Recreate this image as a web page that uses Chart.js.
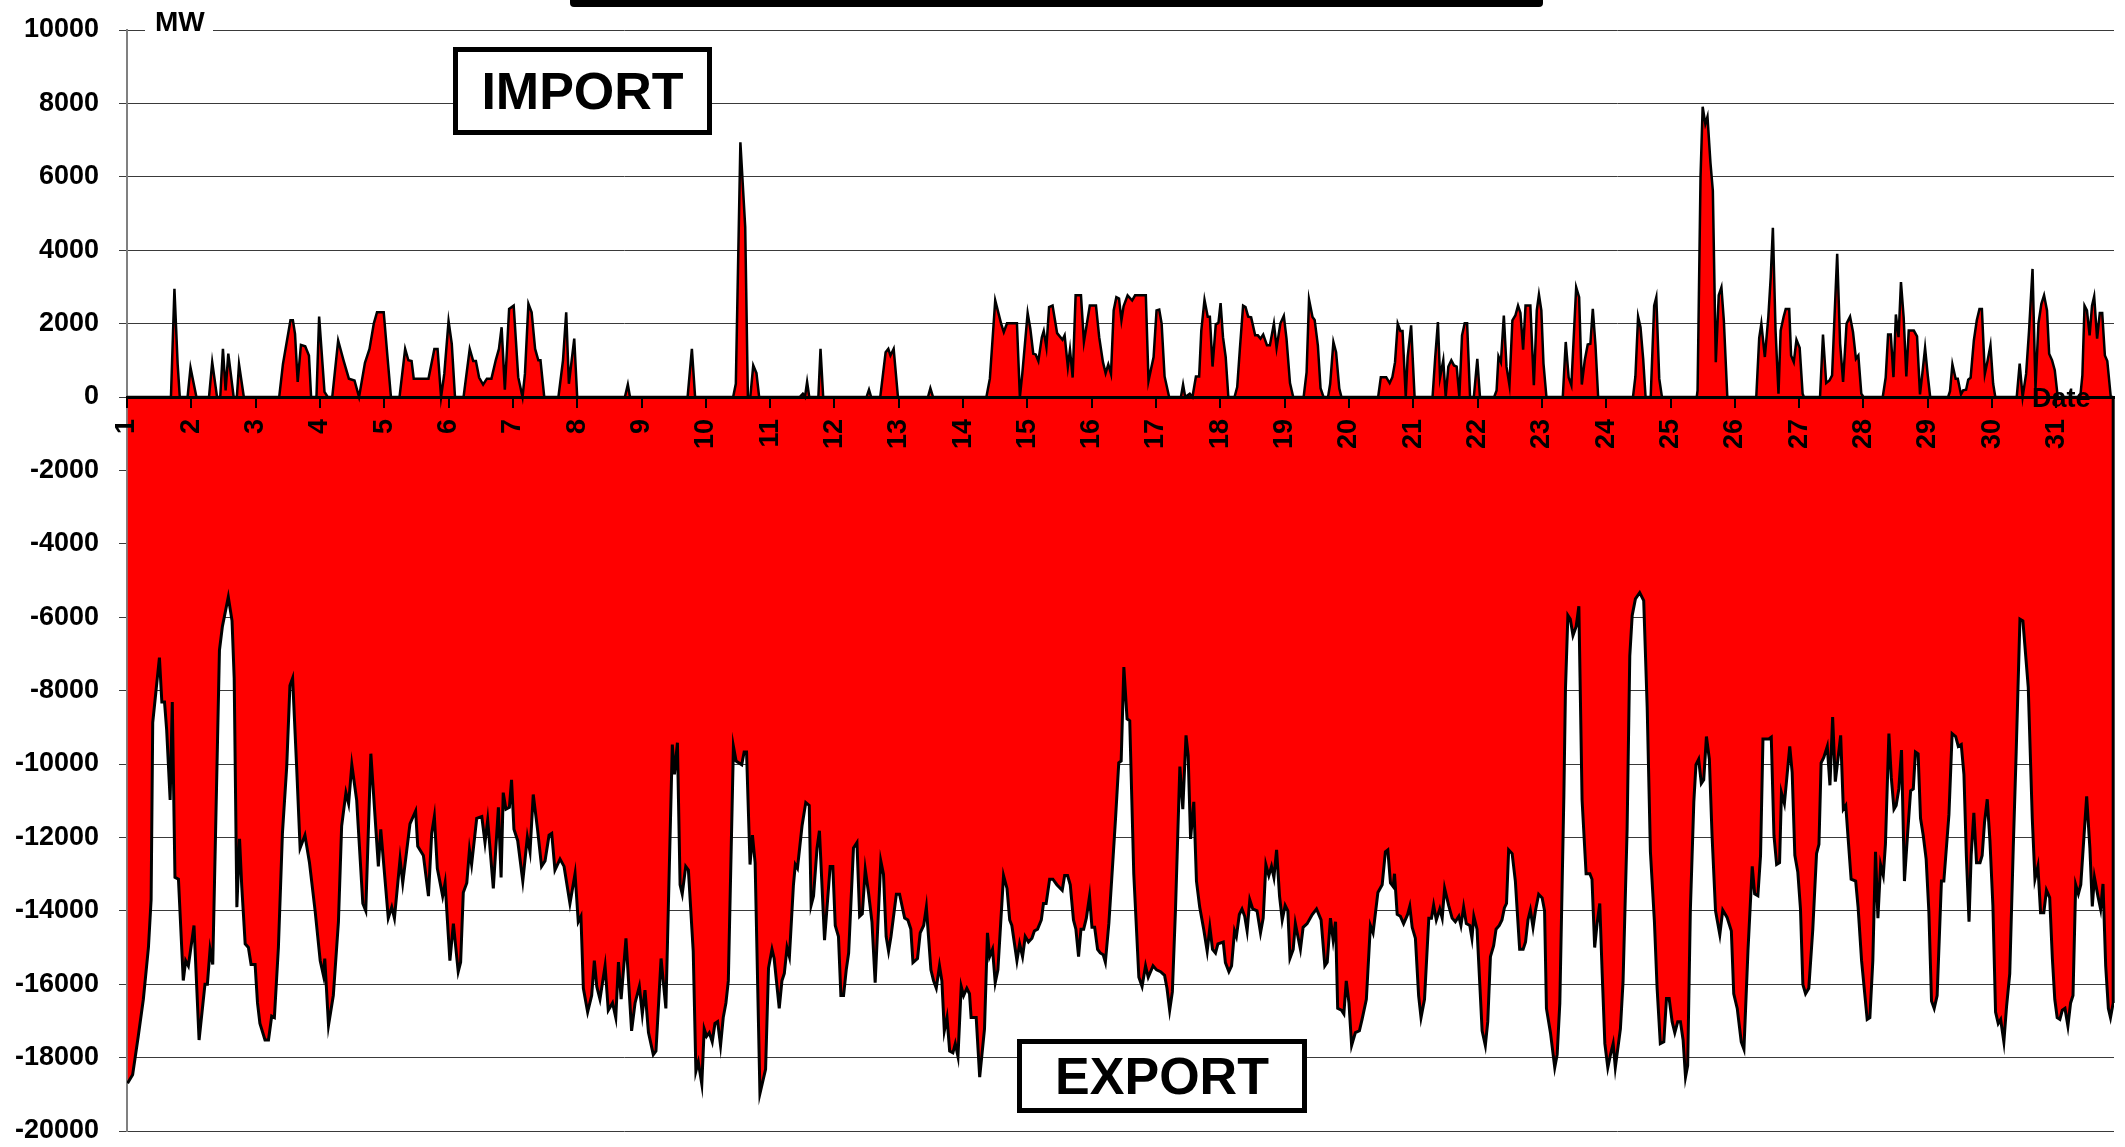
<!DOCTYPE html>
<html>
<head>
<meta charset="utf-8">
<title>Import / Export MW</title>
<script src="https://cdn.jsdelivr.net/npm/chart.js"></script>
<style>
  html, body { margin: 0; padding: 0; background: #fff; }
  #wrap { position: relative; width: 2125px; height: 1147px; overflow: hidden; font-family: "Liberation Sans", Arial, sans-serif; }
  #chart { position: absolute; left: 0; top: 0; }
  .note { position: absolute; font-weight: bold; color: #000; white-space: nowrap; }
  .box { position: absolute; box-sizing: border-box; border: 5px solid #000; background: #fff;
         display: flex; align-items: center; justify-content: center; font-weight: bold; font-size: 52px; }
</style>
</head>
<body>
<div id="wrap">
  <canvas id="chart" width="2125" height="1147"></canvas>
  <div class="note" style="left:570px; top:0; width:973px; height:7px; background:#000; border-radius:0 0 4px 4px;"></div>
  <div class="note" style="left:145px; top:8px; height:27px; line-height:27px; font-size:28px; padding:0 8px 0 10px; background:#fff;">MW</div>
  <div class="note" style="left:2032px; top:385px; line-height:27px; font-size:27px;">Date</div>
  <div class="box" style="left:453px; top:47px; width:259px; height:88px;">IMPORT</div>
  <div class="box" style="left:1017px; top:1039px; width:290px; height:74px;">EXPORT</div>
</div>
<script>
// x tick labels: day of month, one per 24 hours
const dayLabels = ["1","2","3","4","5","6","7","8","9","10","11","12","13","14","15","16",
  "17","18","19","20","21","22","23","24","25","26","27","28","29","30","31"];

// [hour of month, MW]
const importPoints = [
  [0,0],[16.4,0],[17.7,2950],[18.9,900],[19.7,0],[22.6,0],[23.7,800],[25.9,0],[30.6,0],[31.8,950],
  [33.6,0],[34.8,0],[35.8,1310],[36.8,180],[37.8,1180],[39.8,0],[41,0],[41.8,890],[43.6,0],[56.8,0],
  [58.2,900],[61,2090],[61.9,2090],[62.7,1720],[63.7,410],[64.9,1420],[66.5,1380],[67.9,1130],[68.7,0],[70.7,0],
  [71.7,2190],[73.7,140],[74.9,0],[76.6,0],[78.8,1540],[80.8,1000],[82.8,500],[84.9,450],[86.6,0],[88.8,930],
  [90.5,1310],[92.1,2000],[93.3,2310],[95.8,2310],[97.1,1180],[98.5,0],[101.7,0],[103.8,1310],[105,1000],[106.2,980],
  [107,500],[112.5,500],[114.7,1310],[115.9,1310],[117.2,0],[118.4,630],[120,2070],[121.2,1450],[122.4,0],[125.6,0],
  [127.9,1310],[129.2,980],[130.2,980],[131.4,530],[132.9,340],[134.3,500],[136,500],[137.6,1000],[138.8,1310],[139.8,1900],
  [141,200],[142.6,2400],[144.3,2490],[146,540],[147.6,0],[148.5,630],[149.8,2540],[151,2310],[152.3,1310],[153.5,1000],
  [154.3,1000],[155.7,0],[161,0],[162.7,1000],[163.9,2310],[164.9,360],[166.9,1590],[168,0],[185.8,0],[186.9,340],
  [187.7,0],[209.2,0],[210.8,1310],[212,0],[226.2,0],[227.2,360],[228.9,6940],[230.7,4630],[231.7,0],[232.6,0],
  [233.7,860],[234.9,650],[235.9,0],[251,0],[252.2,90],[253,0],[253.8,410],[254.6,0],[258,0],[258.8,1310],
  [259.8,0],[276,0],[276.9,200],[277.7,0],[281.1,0],[283.1,1220],[284.1,1310],[284.9,1130],[286.1,1310],[287.7,0],
  [298.9,0],[299.8,240],[300.8,0],[320.7,0],[322,500],[324,2630],[326.2,2000],[327.2,1770],[328.4,2010],[332.1,2010],
  [333.2,0],[334.1,630],[336.1,2290],[337.1,1860],[338.2,1180],[339.1,1160],[340.1,980],[341.4,1630],[342.1,1800],[343.1,1360],
  [344.1,2450],[345.4,2490],[346.3,2090],[347.1,1740],[349.1,1560],[349.9,1680],[351.1,820],[351.9,1290],[352.9,530],[354,2770],
  [356,2770],[357.1,1500],[359.3,2490],[361.6,2490],[362.8,1630],[364.2,950],[365.2,650],[366.2,890],[367.2,630],[368.2,2360],
  [369.2,2720],[370.2,2680],[371.1,2090],[371.9,2470],[373.4,2770],[375.1,2630],[376.2,2770],[380.2,2770],[381.2,440],[383.1,1090],
  [384.2,2360],[385.2,2380],[386.1,2000],[387.2,560],[388.9,0],[393.3,0],[394.1,340],[394.9,0],[396.6,90],[397.6,0],
  [398.9,560],[400.1,560],[400.9,1810],[402.1,2650],[403.3,2190],[404.1,2190],[405.1,830],[406.3,1980],[407.3,2020],[408.1,2560],
  [409,1630],[410,1090],[411,0],[413.3,0],[414.3,270],[415.3,1310],[416.5,2490],[417.4,2450],[418.4,2190],[419.5,2170],
  [421,1680],[422,1680],[423,1590],[424,1700],[425.4,1410],[426.5,1410],[428,2000],[429,1340],[430.4,2000],[431.7,2210],
  [432.7,1590],[434,380],[435.2,0],[439.1,0],[440.2,680],[441.1,2660],[442.4,2180],[443.2,2100],[444.4,1410],[445.4,240],
  [446.5,0],[448.2,0],[449,360],[450.2,1500],[451.2,1220],[452.4,230],[453.2,0],[466.9,0],[467.9,540],[469.9,540],
  [471.2,380],[472.2,540],[473.2,950],[474.2,2000],[475.2,1800],[476,1800],[477.2,0],[477.9,1090],[479.2,1950],[480.5,0],
  [487.2,0],[488.2,1090],[489.2,2040],[490,530],[491.2,1000],[492.1,0],[493.1,830],[494.2,1000],[495.2,860],[496.2,830],
  [497.2,0],[498.2,1680],[499.2,2010],[500.1,2010],[501.2,0],[502.6,0],[503.9,1040],[504.9,0],[510.2,0],[511.1,180],
  [511.8,1110],[512.7,950],[513.8,2220],[514.8,820],[515.9,320],[517,2090],[518.1,2220],[519.1,2490],[520,2290],[521,1290],
  [521.9,2490],[523.7,2490],[525,320],[526.1,2360],[526.9,2790],[527.8,2360],[528.6,910],[529.7,0],[535.8,0],[536.9,1500],
  [538,530],[539,320],[540.1,1950],[540.8,2990],[541.9,2720],[542.9,340],[544,1000],[545.1,1430],[546.1,1450],[547,2400],
  [548,1410],[549,0],[562,0],[562.9,560],[563.9,2190],[564.8,1900],[565.8,1040],[566.7,0],[568.6,0],[569.9,2490],
  [570.7,2720],[571.8,500],[572.8,0],[585.8,0],[586.1,180],[587.2,5990],[588,7910],[589,7440],[589.8,7640],[590.9,6390],
  [591.8,5620],[592.9,950],[594,2770],[595,2990],[595.9,2090],[597.2,0],[608,0],[609.1,1610],[609.9,2000],[611.2,1090],
  [612.5,2180],[613.4,3270],[614.2,4610],[615.2,1810],[616.3,90],[617.1,1810],[618.2,2180],[619,2400],[620.3,2400],[621,1130],
  [622,950],[623,1560],[624.2,1340],[625.3,90],[625.8,0],[631.8,0],[632.9,1700],[634.1,380],[635.3,450],[636.3,590],
  [637.2,2180],[638.2,3900],[639.3,1450],[640.4,410],[641.7,2000],[643,2190],[644.1,1770],[645.2,1040],[646.1,1130],[647.2,90],
  [648,0],[655.2,0],[656.3,530],[657.2,1700],[658.2,1700],[659.2,540],[660.1,2250],[661.1,1630],[662,3130],[663,2180],
  [664,560],[664.9,1810],[666.8,1810],[668,1650],[669.1,70],[670,650],[671,1340],[672,590],[672.9,0],[679.6,0],
  [680.3,160],[681.2,890],[682.4,500],[683.2,500],[684.4,70],[685.2,180],[686.3,200],[687.1,470],[688,530],[689.2,1540],
  [690.3,2090],[691.3,2400],[692.2,2400],[693.3,630],[694.3,980],[695.4,1410],[696.4,360],[697.2,0],[705.2,0],[706.3,910],
  [707.4,0],[708.7,630],[709.8,1810],[711.1,3490],[712.2,230],[713.3,2000],[714.4,2540],[715.4,2770],[716.5,2360],[717.3,1180],
  [718.4,1000],[719.4,730],[720.5,0],[728.9,0],[729.7,590],[730.5,2490],[731.4,2360],[732.4,1680],[733.3,2490],[734.1,2740],
  [735.2,1590],[736.2,2290],[737.1,2290],[738.1,1130],[739,980],[740.3,0],[741.2,0]
];

const exportPoints = [
  [0.2,-18700],[2.1,-18470],[4.2,-17420],[6.1,-16410],[8,-15000],[9,-13700],[9.6,-8870],[12.1,-7100],[13,-8310],[14,-8310],
  [14.8,-9070],[16.1,-10980],[16.9,-8310],[17.9,-13090],[19.2,-13140],[21,-15900],[21.9,-15360],[22.9,-15500],[25,-14400],[26.9,-17520],
  [29.1,-16000],[30,-16000],[31,-15050],[32,-15460],[34.5,-6900],[35.6,-6250],[37.8,-5450],[39.2,-6100],[40,-7660],[41,-13900],
  [42,-12040],[42.8,-13300],[44.1,-14900],[45.3,-15000],[46.3,-15460],[47.8,-15460],[48.7,-16510],[49.6,-17070],[51.5,-17520],[52.8,-17520],
  [54,-16870],[55,-16910],[56.5,-15000],[58,-11890],[59.6,-10070],[60.8,-7860],[61.8,-7660],[63.3,-10070],[64.6,-12290],[66.4,-11940],
  [68.1,-12690],[70.2,-14000],[72.1,-15360],[73.3,-15760],[73.8,-15300],[75.2,-17120],[77,-16300],[78.9,-14300],[80.1,-11690],[81.7,-10780],
  [82.7,-11080],[83.9,-10020],[85.7,-10980],[88,-13800],[89.1,-14000],[91,-9720],[93.8,-12790],[94.7,-11780],[97.5,-14200],[98.8,-13900],
  [99.8,-14200],[101.9,-12590],[102.9,-13240],[105.6,-11630],[107.7,-11280],[108.5,-12240],[110.6,-12490],[112.5,-13600],[113.7,-11890],[114.7,-11430],
  [115.8,-12840],[117.8,-13600],[118.7,-13240],[120.5,-15360],[121.8,-14350],[123.6,-15660],[124.5,-15400],[125.5,-13500],[126.8,-13240],[127.8,-12340],
  [128.6,-12740],[130.5,-11480],[132.4,-11430],[133.6,-12140],[134.6,-11530],[136.7,-13390],[138.6,-11180],[139.6,-13090],[140.4,-10780],[141.4,-11230],
  [142.7,-11180],[143.5,-10430],[144.4,-11780],[145.8,-12090],[147.7,-13190],[149.4,-11990],[150.4,-12390],[151.6,-10830],[153.2,-11780],[154.7,-12790],
  [156,-12640],[157.5,-11940],[158.5,-11890],[159.7,-12890],[161.6,-12590],[163.1,-12790],[165.3,-13800],[167.2,-12990],[168.4,-14300],[169.4,-14150],
  [170.3,-16110],[171.9,-16760],[173.4,-16310],[174.4,-15360],[175.3,-16060],[176.5,-16410],[178.4,-15500],[179.6,-16710],[181.2,-16510],[182.4,-16910],
  [183.4,-15400],[184.4,-16410],[186.2,-14750],[188.3,-17270],[189.6,-16510],[191.2,-16060],[192.3,-16810],[193.3,-16160],[194.6,-17320],[196.4,-17920],
  [197.4,-17820],[199.3,-15300],[201.1,-16660],[203.5,-9470],[204.3,-10280],[205.4,-9420],[206.4,-13290],[207.2,-13540],[208.5,-12790],[209.5,-12890],
  [211.3,-15100],[212.3,-18370],[213.2,-18120],[214.5,-18720],[215.4,-17220],[216.3,-17420],[217.3,-17320],[218.4,-17570],[219.4,-17070],[220.4,-17020],
  [221.5,-17670],[222.5,-16910],[223.5,-16510],[224.4,-15910],[226.3,-9520],[227.3,-9920],[229.4,-10020],[230.3,-9670],[231.2,-9670],[232.5,-12740],
  [233.4,-11940],[234.4,-12690],[236.2,-18980],[238.3,-18320],[239.4,-15560],[240.7,-15050],[241.5,-15300],[243.4,-16660],[244.4,-15910],[245.3,-15710],
  [246.3,-15000],[247.2,-15250],[248.7,-13290],[249.4,-12740],[250.2,-12840],[251.9,-11690],[253.3,-11050],[254.6,-11130],[255.3,-13850],[256.2,-13600],
  [257.5,-12290],[258.4,-11820],[260.3,-14800],[262.4,-12790],[263.4,-12790],[264.3,-14400],[265.5,-14700],[266.4,-16310],[267.4,-16310],[268.4,-15610],
  [269.3,-15150],[271.1,-12290],[272.4,-12140],[273.4,-14150],[274.4,-14080],[275.5,-12870],[276.7,-13500],[278,-14300],[279.2,-15960],[281.3,-12640],
  [282.3,-13000],[283.3,-14700],[284.2,-15100],[285.1,-14700],[287.1,-13550],[288.3,-13550],[290.2,-14200],[291.4,-14250],[292.5,-14500],[293.3,-15410],
  [295,-15300],[296,-14600],[297.3,-14400],[298.3,-13900],[300,-15610],[301,-15910],[302,-16110],[303.2,-15500],[304.1,-15910],[305,-17270],
  [306,-16910],[307,-17820],[308.2,-17870],[309.1,-17620],[310.1,-17970],[311.3,-16060],[312.2,-16310],[313.4,-16110],[314.4,-16260],[315,-16910],
  [316.9,-16910],[318.2,-18530],[320,-17220],[321.1,-14600],[321.9,-15250],[323,-15050],[324,-15960],[325,-15610],[327.1,-13040],[328.4,-13390],
  [329.4,-14250],[330.2,-14400],[332.1,-15360],[333.1,-14900],[334.2,-15250],[335.2,-14700],[336.4,-14850],[337.7,-14750],[338.6,-14550],[339.8,-14500],
  [341.2,-14250],[342,-13800],[343,-13800],[344.3,-13140],[345.5,-13140],[347,-13290],[349,-13440],[349.9,-13040],[351,-13040],[352,-13290],
  [353.2,-14250],[354.1,-14500],[355.1,-15250],[356,-14500],[357,-14500],[358,-14200],[359.2,-13600],[360.1,-14450],[361.1,-14450],[362.2,-15050],
  [363.2,-15150],[364.3,-15200],[365.1,-15400],[366.4,-14350],[367.6,-12990],[368.9,-11480],[370.1,-9970],[371,-9920],[372,-7360],[373.2,-8770],
  [374.2,-8820],[375.7,-12990],[377.6,-15810],[378.8,-16060],[380.1,-15500],[381.1,-15810],[382.9,-15500],[384.2,-15610],[385.7,-15660],[387.2,-15760],
  [388.1,-16110],[389.1,-16710],[390.1,-16210],[391.3,-13900],[392.9,-10070],[394,-11230],[395.2,-9220],[396,-9770],[396.9,-12040],[398.1,-11030],
  [399.1,-13190],[400.3,-13900],[401.8,-14500],[403.1,-15100],[404.1,-14450],[405.1,-15050],[406.2,-15150],[407.1,-14900],[409.1,-14850],[409.9,-15410],
  [411.2,-15660],[412.2,-15500],[413.3,-14550],[414,-14700],[415.1,-14100],[416.1,-13950],[417.1,-14150],[418,-14550],[419,-13700],[420.1,-13950],
  [421.7,-14000],[423,-14600],[424,-14200],[425,-12740],[426.1,-13040],[427.1,-12790],[428,-13090],[429,-12340],[430.1,-13600],[431.1,-14250],
  [432.2,-13850],[433.2,-14000],[434,-15290],[435.2,-15050],[436,-14350],[437.9,-15050],[438.9,-14450],[440.4,-14350],[442.3,-14100],[443.9,-13950],
  [445.6,-14250],[447,-15500],[447.9,-15400],[449.1,-14200],[450.1,-14800],[451,-14300],[451.8,-16660],[453.2,-16710],[454.1,-16810],[455,-15910],
  [456,-16510],[457,-17670],[458.4,-17320],[459.9,-17270],[460.9,-16960],[462.5,-16410],[464,-14400],[465,-14600],[466.8,-13500],[468.4,-13290],
  [469.6,-12390],[470.5,-12340],[471.5,-13240],[472.5,-13340],[473,-12990],[474,-14100],[475.2,-14150],[476.4,-14350],[477.9,-14100],[478.7,-13880],
  [479.6,-14450],[480.8,-14750],[482,-16310],[482.9,-16910],[484.2,-16410],[485.8,-14200],[486.8,-14200],[487.6,-13850],[488.6,-14250],[489.9,-13950],
  [490.8,-14200],[491.7,-13390],[493.2,-13850],[494.5,-14200],[495.7,-14300],[497,-14150],[497.8,-14400],[498.8,-13900],[499.8,-14350],[501.1,-14400],
  [501.9,-14750],[502.6,-14150],[503.8,-14500],[505.7,-17270],[506.9,-17670],[507.8,-17020],[508.8,-15250],[510,-14950],[510.9,-14500],[512.1,-14400],
  [513.1,-14250],[514,-13920],[514.8,-13800],[515.6,-12340],[516.9,-12440],[518.1,-13190],[519.7,-15050],[521,-15050],[521.9,-14850],[522.8,-14250],
  [523.7,-13980],[524.7,-14450],[525.6,-14000],[526.8,-13550],[528.1,-13650],[529,-14000],[529.7,-16660],[531.2,-17320],[532.8,-18270],[533.7,-17920],
  [534.7,-16510],[536.2,-10880],[536.8,-7960],[537.7,-5950],[538.6,-6050],[539.6,-6500],[540.8,-6250],[541.8,-5700],[543,-10980],[544.5,-12990],
  [545.9,-12990],[546.7,-13140],[547.7,-15000],[548.6,-14350],[549.6,-13800],[550.5,-15710],[551.5,-17620],[552.6,-18270],[553.6,-17920],[554.6,-17620],
  [555.4,-18270],[557.3,-17220],[558.3,-15910],[559.8,-11790],[560.8,-7060],[561.7,-5950],[562.9,-5500],[564.5,-5330],[566,-5550],[567.3,-8470],
  [568.5,-12390],[570,-14300],[571,-16110],[572.2,-17620],[573.5,-17570],[574.5,-16390],[575.5,-16390],[576.6,-17020],[577.6,-17320],[578.7,-17020],
  [579.7,-17020],[580.7,-17520],[581.6,-18530],[582.4,-18220],[583.4,-14000],[584.7,-11030],[585.5,-10020],[586.5,-9870],[587.5,-10530],[588.4,-10430],
  [589.4,-9250],[590.5,-9870],[591.5,-11940],[592.8,-14000],[594.4,-14650],[595.5,-13980],[597.1,-14180],[598.7,-14550],[599.6,-16260],[600.9,-16660],
  [602.4,-17570],[603.4,-17770],[604.9,-15100],[606.5,-12790],[607.4,-13540],[608.6,-13590],[609.6,-12490],[610.5,-9320],[612.7,-9320],[613.6,-9270],
  [614.6,-11940],[615.6,-12740],[616.7,-12690],[617.4,-10780],[618.5,-11080],[620.5,-9520],[621.4,-10230],[622.4,-12490],[623.5,-12940],[624.5,-13950],
  [625.4,-16010],[626.4,-16260],[627.6,-16110],[629.1,-14500],[630.5,-12440],[631.4,-12190],[632.2,-9970],[633.2,-9820],[634.5,-9520],[635.5,-10580],
  [636.5,-8720],[637.5,-10480],[639.5,-9220],[640.5,-11230],[641.4,-11130],[642.3,-12040],[643.4,-13140],[645.1,-13190],[646,-13900],[647.3,-15360],
  [649.4,-16960],[650.4,-16910],[651.5,-15360],[652.5,-12390],[653.4,-14200],[654.4,-12740],[655.4,-13040],[656.2,-12190],[657.5,-9170],[658.4,-10380],
  [659.4,-11230],[660.2,-11130],[661.2,-10680],[662.2,-9620],[663.3,-13190],[664.3,-12090],[665.6,-10730],[666.6,-10680],[667.4,-9670],[668.4,-9720],
  [669.3,-11480],[670.3,-11940],[671.4,-12590],[672.4,-14000],[673.4,-16460],[674.4,-16660],[675.5,-16310],[677.1,-13190],[678,-13190],[679.9,-11380],
  [681.1,-9170],[682.4,-9250],[683.4,-9520],[684.5,-9470],[685.5,-10280],[686.4,-12490],[687.4,-14300],[688.2,-12490],[689.2,-11330],[690.2,-12690],
  [691.5,-12690],[692.3,-12490],[693.2,-11580],[694.2,-10960],[695.2,-12090],[696.3,-13850],[697.3,-16760],[698.3,-17070],[699.2,-16960],[700.4,-17570],
  [701.4,-16610],[702.6,-15710],[703.9,-12290],[705,-9670],[706.4,-6050],[707.5,-6100],[709.5,-7910],[711,-11480],[712,-13140],[713.1,-12790],
  [714.1,-14050],[715.3,-14050],[716.3,-13440],[717.5,-13640],[718.5,-15300],[719.4,-16410],[720.3,-16910],[721.3,-16960],[722.2,-16710],[723.2,-16660],
  [724.3,-17140],[725.3,-16510],[726.2,-16310],[727.2,-13290],[728.2,-13540],[729.1,-13290],[730,-12290],[731.3,-10880],[732.5,-12290],[733.4,-13880],
  [734.2,-13090],[735.5,-13600],[736.5,-13950],[737.4,-13270],[738.4,-15500],[739.4,-16660],[740.2,-16910],[741.2,-16510]
];

const yTicks = { min: -20000, max: 10000, step: 2000 };
const hoursShown = 741.5;

const FONT = "'Liberation Sans', Arial, sans-serif";

// closes the export area on the right with a vertical black edge
const edgePlugin = {
  id: "edge",
  afterDatasetsDraw(chart) {
    const { ctx, scales: { x, y } } = chart;
    const last = exportPoints[exportPoints.length - 1];
    const px = x.getPixelForValue(last[0]);
    ctx.save();
    ctx.strokeStyle = "#000";
    ctx.lineWidth = 3;
    ctx.beginPath();
    ctx.moveTo(px, y.getPixelForValue(0));
    ctx.lineTo(px, y.getPixelForValue(last[1]));
    ctx.stroke();
    ctx.restore();
  }
};

new Chart(document.getElementById("chart"), {
  type: "line",
  data: {
    datasets: [
      {
        label: "Import",
        data: importPoints.map(p => ({ x: p[0], y: p[1] })),
        borderColor: "#000",
        borderWidth: 2.5,
        backgroundColor: "#ff0000",
        fill: "origin",
        pointRadius: 0,
        tension: 0
      },
      {
        label: "Export",
        data: exportPoints.map(p => ({ x: p[0], y: p[1] })),
        borderColor: "#000",
        borderWidth: 3,
        backgroundColor: "#ff0000",
        fill: "origin",
        pointRadius: 0,
        tension: 0
      }
    ]
  },
  options: {
    responsive: false,
    animation: false,
    events: [],
    layout: { padding: { left: 0, top: 30, right: 11, bottom: 16 } },
    plugins: { legend: { display: false }, tooltip: { enabled: false } },
    scales: {
      x: {
        type: "linear",
        min: 0,
        max: hoursShown,
        position: { y: 0 },
        grid: { z: 1, drawOnChartArea: false, drawTicks: true, tickLength: 9, color: "#000", lineWidth: 2 },
        border: { z: 1, display: true, color: "#000", width: 3 },
        ticks: {
          z: 1,
          stepSize: 24,
          autoSkip: false,
          includeBounds: false,
          minRotation: 90,
          maxRotation: 90,
          padding: 13,
          color: "#000",
          font: { family: FONT, size: 27, weight: "bold" },
          callback: v => dayLabels[Math.round(v / 24)]
        },
        afterFit(s) { s.paddingLeft = 0; s.paddingRight = 0; }
      },
      y: {
        min: yTicks.min,
        max: yTicks.max,
        grid: { color: "#3a3a3a", lineWidth: 1, tickLength: 8 },
        border: { color: "#808080", width: 2 },
        ticks: {
          stepSize: yTicks.step,
          padding: 20,
          color: "#000",
          font: { family: FONT, size: 27, weight: "bold" },
          callback: v => String(v)
        },
        afterFit(s) { s.width = 127; s.paddingTop = 0; s.paddingBottom = 0; }
      }
    }
  },
  plugins: [edgePlugin]
});
</script>
</body>
</html>
